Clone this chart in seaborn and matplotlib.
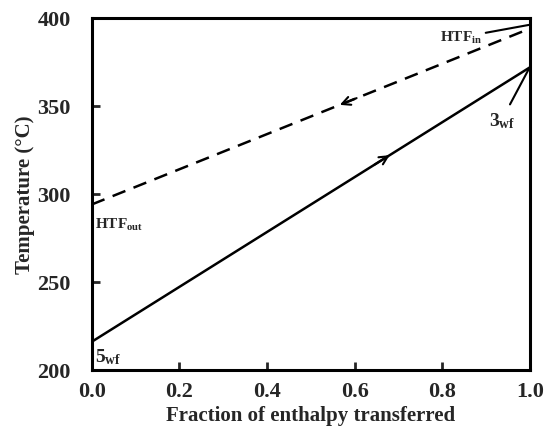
import numpy as np
import pandas as pd
import seaborn as sns
import matplotlib
matplotlib.use("Agg")
import matplotlib.pyplot as plt

# data
fraction = [0.0, 1.0]
t_wf = [216, 372]      # working fluid 5_wf -> 3_wf
t_htf = [294, 394]     # heat transfer fluid HTF_out <- HTF_in

x_ticks = [0.0, 0.2, 0.4, 0.6, 0.8, 1.0]
y_ticks = [200, 250, 300, 350, 400]

df = pd.DataFrame({"Fraction": fraction, "WF": t_wf, "HTF": t_htf})

sns.set_style("ticks")
plt.rcParams['font.family'] = ['Liberation Serif', 'DejaVu Serif']
plt.rcParams['font.weight'] = 'bold'
plt.rcParams['mathtext.fontset'] = 'custom'
plt.rcParams['mathtext.rm'] = 'Liberation Serif:bold'
plt.rcParams['mathtext.bf'] = 'Liberation Serif:bold'
plt.rcParams['mathtext.it'] = 'Liberation Serif:bold'

fig = plt.figure(figsize=(5.46, 4.39), dpi=100)
ax = fig.add_axes([0.168, 0.155, 0.803, 0.802])

sns.lineplot(data=df, x="Fraction", y="WF", color="black", lw=1.8, ax=ax)
sns.lineplot(data=df, x="Fraction", y="HTF", color="black", lw=1.8, ax=ax)
ax.lines[1].set_linestyle((0, (5.5, 3.5)))

# direction arrows
def interp(x, ys):
    return ys[0] + (ys[1] - ys[0]) * x

ax.annotate('', xy=(0.685, interp(0.685, t_wf)), xytext=(0.64, interp(0.64, t_wf)),
            arrowprops=dict(arrowstyle='->', color='black', lw=1.5, mutation_scale=15))
ax.annotate('', xy=(0.56, interp(0.56, t_htf)), xytext=(0.61, interp(0.61, t_htf)),
            arrowprops=dict(arrowstyle='->', color='black', lw=1.5, mutation_scale=15))

# labels
ax.annotate('HTF$_{\\mathrm{in}}$', xy=(0.997, 396), xytext=(0.795, 389),
            fontsize=11, fontweight='bold', va='center',
            arrowprops=dict(arrowstyle='-', color='black', lw=1.5, shrinkA=0, shrinkB=0))
ax.annotate('3$_{\\mathrm{wf}}$', xy=(0.997, 371), xytext=(0.905, 342),
            fontsize=14, fontweight='bold', va='center',
            arrowprops=dict(arrowstyle='-', color='black', lw=1.5, shrinkA=2, shrinkB=0))
ax.text(0.008, 283, 'HTF$_{\\mathrm{out}}$', fontsize=11, fontweight='bold', va='center')
ax.text(0.008, 208, '5$_{\\mathrm{wf}}$', fontsize=14, fontweight='bold', va='center')

ax.set_xlim(0, 1)
ax.set_ylim(200, 400)
ax.set_xticks(x_ticks)
ax.set_xticklabels([f"{t:.1f}" for t in x_ticks])
ax.set_yticks(y_ticks)
ax.set_xlabel('Fraction of enthalpy transferred', fontsize=15, fontweight='bold', labelpad=3)
ax.set_ylabel('Temperature (°C)', fontsize=15, fontweight='bold', labelpad=2)
ax.tick_params(direction='in', length=6, width=2, labelsize=16)
ax.tick_params(axis='x', pad=8)
ax.tick_params(axis='y', pad=15)
for lab in ax.get_xticklabels() + ax.get_yticklabels():
    lab.set_fontweight('bold')
for s in ax.spines.values():
    s.set_linewidth(2.2)
    s.set_color('black')

fig.savefig("out.png", dpi=100)
